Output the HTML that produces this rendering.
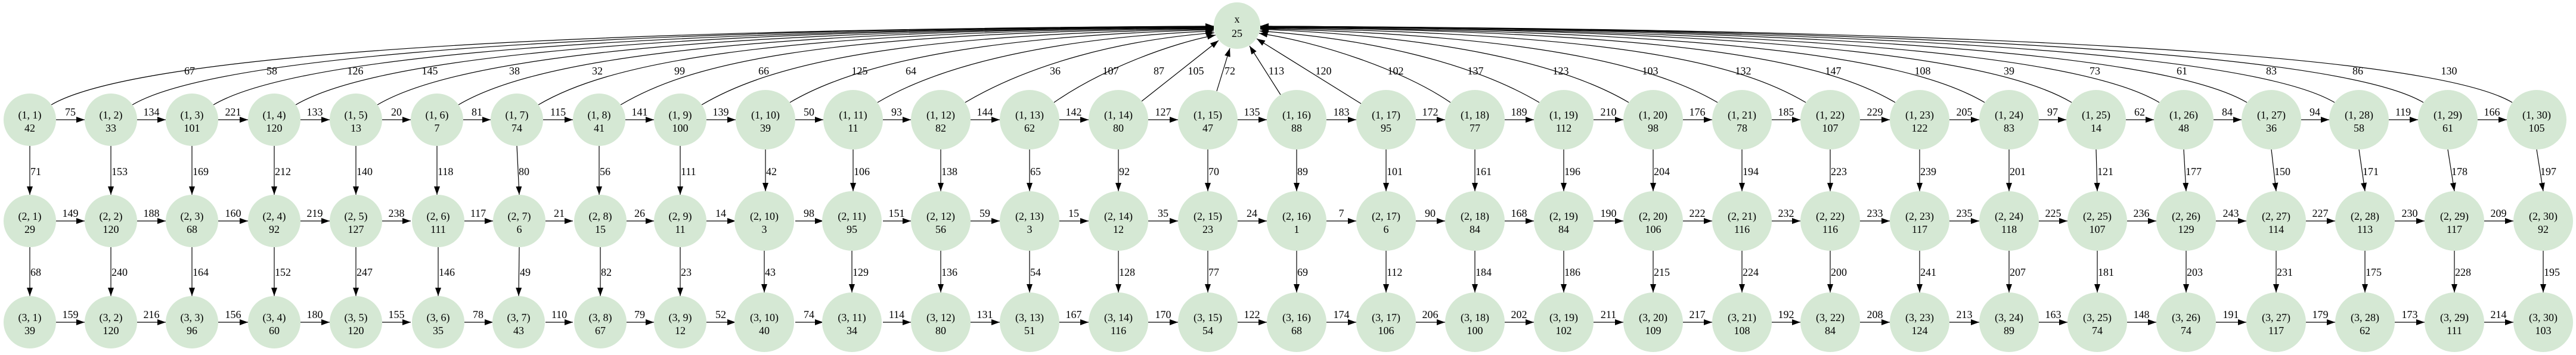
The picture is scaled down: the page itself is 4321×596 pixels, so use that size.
<!DOCTYPE html>
<html><head><meta charset="utf-8"><style>
body{margin:0;background:#fff;}
svg{display:block;}
circle{fill:#d5e8d4;stroke:none;}
text{font-family:"Liberation Serif",serif;font-size:18px;fill:#000;}
.n text{text-anchor:middle;}
.hl{text-anchor:middle;}
.vl{text-anchor:start;}
.e{stroke:#000;stroke-width:1.2;fill:none;marker-end:url(#a);}
</style></head><body>
<svg width="4321" height="596" viewBox="0 0 4321 596" xmlns="http://www.w3.org/2000/svg">
<defs><marker id="a" viewBox="0 0 14 10" refX="14" refY="5" markerWidth="14" markerHeight="10" markerUnits="userSpaceOnUse" orient="auto"><path d="M0,0 L14,5 L0,10 z" fill="#000"/></marker></defs>

<!-- curves to x -->
<path class="e" d="M86,176 C196,111 683,50 2036,44"/>
<path class="e" d="M222,176 C332,111 778,50 2036,44"/>
<path class="e" d="M358,176 C468,111 873,50 2036,45"/>
<path class="e" d="M496,176 C606,111 970,50 2036,45"/>
<path class="e" d="M633,176 C743,111 1066,50 2036,46"/>
<path class="e" d="M769,176 C879,111 1161,51 2036,46"/>
<path class="e" d="M903,176 C1013,111 1255,52 2036,47"/>
<path class="e" d="M1041,176 C1151,111 1351,54 2036,48"/>
<path class="e" d="M1177,176 C1287,111 1492,57 2036,49"/>
<path class="e" d="M1325,172 C1435,107 1644,60 2036,50"/>
<path class="e" d="M1472,172 C1582,107 1773,63 2036,52"/>
<path class="e" d="M1619,172 C1729,107 1880,67 2037,55"/>
<path class="e" d="M1768,172 C1850,115 1967,72 2039,59"/>
<path class="e" d="M1915,170 L2044,68"/>
<path class="e" d="M2041,153 L2063,81"/>
<path class="e" d="M2148,159 L2096,77"/>
<path class="e" d="M2283,174 L2108,65"/>
<path class="e" d="M2433,172 C2353,117 2211,70 2112,56"/>
<path class="e" d="M2582,172 C2472,107 2305,66 2113,52"/>
<path class="e" d="M2732,172 C2622,107 2422,62 2114,49"/>
<path class="e" d="M2881,172 C2771,107 2561,59 2114,48"/>
<path class="e" d="M3029,172 C2919,107 2721,56 2114,47"/>
<path class="e" d="M3179,172 C3069,107 2848,53 2114,46"/>
<path class="e" d="M3329,172 C3219,107 2953,51 2114,46"/>
<path class="e" d="M3475,172 C3365,107 3055,50 2114,45"/>
<path class="e" d="M3622,172 C3512,107 3158,50 2114,45"/>
<path class="e" d="M3769,172 C3659,107 3261,50 2114,44"/>
<path class="e" d="M3916,172 C3806,107 3364,50 2114,44"/>
<path class="e" d="M4065,172 C3955,107 3468,50 2114,44"/>
<path class="e" d="M4214,172 C4104,107 3572,50 2114,44"/>

<g class="hl">
<text x="318" y="125">67</text><text x="456" y="125">58</text><text x="596" y="125">126</text><text x="721" y="125">145</text><text x="863" y="125">38</text><text x="1002" y="125">32</text><text x="1140" y="125">99</text><text x="1281" y="125">66</text><text x="1442" y="125">125</text><text x="1528" y="125">64</text><text x="1770" y="125">36</text><text x="1863" y="125">107</text><text x="1944" y="125">87</text><text x="2006" y="125">105</text><text x="2063" y="125">72</text><text x="2141" y="125">113</text><text x="2220" y="125">120</text><text x="2341" y="125">102</text><text x="2475" y="125">137</text><text x="2618" y="125">123</text><text x="2768" y="125">103</text><text x="2924" y="125">132</text><text x="3075" y="125">147</text><text x="3225" y="125">108</text><text x="3370" y="125">39</text><text x="3514" y="125">73</text><text x="3660" y="125">61</text><text x="3810" y="125">83</text><text x="3955" y="125">86</text><text x="4108" y="125">130</text>
</g>

<!-- row1 horizontal -->
<g>
<line class="e" x1="94" y1="201" x2="142" y2="201"/><line class="e" x1="230" y1="201" x2="278" y2="201"/><line class="e" x1="366" y1="201" x2="416" y2="201"/><line class="e" x1="504" y1="201" x2="553" y2="201"/><line class="e" x1="641" y1="201" x2="689" y2="201"/><line class="e" x1="777" y1="201" x2="823" y2="201"/><line class="e" x1="911" y1="201" x2="961" y2="201"/><line class="e" x1="1049" y1="201" x2="1097" y2="201"/><line class="e" x1="1185" y1="201" x2="1234" y2="201"/><line class="e" x1="1334" y1="201" x2="1381" y2="201"/><line class="e" x1="1481" y1="201" x2="1528" y2="201"/><line class="e" x1="1628" y1="201" x2="1677" y2="201"/><line class="e" x1="1777" y1="201" x2="1826" y2="201"/><line class="e" x1="1926" y1="201" x2="1976" y2="201"/><line class="e" x1="2076" y1="201" x2="2125" y2="201"/><line class="e" x1="2225" y1="201" x2="2275" y2="201"/><line class="e" x1="2375" y1="201" x2="2424" y2="201"/><line class="e" x1="2524" y1="201" x2="2573" y2="201"/><line class="e" x1="2673" y1="201" x2="2723" y2="201"/><line class="e" x1="2823" y1="201" x2="2872" y2="201"/><line class="e" x1="2972" y1="201" x2="3020" y2="201"/><line class="e" x1="3120" y1="201" x2="3170" y2="201"/><line class="e" x1="3270" y1="201" x2="3320" y2="201"/><line class="e" x1="3420" y1="201" x2="3466" y2="201"/><line class="e" x1="3566" y1="201" x2="3613" y2="201"/><line class="e" x1="3713" y1="201" x2="3760" y2="201"/><line class="e" x1="3860" y1="201" x2="3907" y2="201"/><line class="e" x1="4007" y1="201" x2="4056" y2="201"/><line class="e" x1="4156" y1="201" x2="4205" y2="201"/>
</g>
<g class="hl">
<text x="118" y="194">75</text><text x="254" y="194">134</text><text x="391" y="194">221</text><text x="528" y="194">133</text><text x="665" y="194">20</text><text x="800" y="194">81</text><text x="936" y="194">115</text><text x="1073" y="194">141</text><text x="1209" y="194">139</text><text x="1357" y="194">50</text><text x="1504" y="194">93</text><text x="1652" y="194">144</text><text x="1801" y="194">142</text><text x="1951" y="194">127</text><text x="2100" y="194">135</text><text x="2250" y="194">183</text><text x="2399" y="194">172</text><text x="2548" y="194">189</text><text x="2698" y="194">210</text><text x="2847" y="194">176</text><text x="2996" y="194">185</text><text x="3145" y="194">229</text><text x="3295" y="194">205</text><text x="3443" y="194">97</text><text x="3589" y="194">62</text><text x="3736" y="194">84</text><text x="3883" y="194">94</text><text x="4031" y="194">119</text><text x="4180" y="194">166</text>
</g>

<!-- row2 horizontal -->
<g>
<line class="e" x1="94" y1="371" x2="142" y2="371"/><line class="e" x1="230" y1="371" x2="278" y2="371"/><line class="e" x1="366" y1="371" x2="416" y2="371"/><line class="e" x1="504" y1="371" x2="553" y2="371"/><line class="e" x1="641" y1="371" x2="689" y2="371"/><line class="e" x1="777" y1="371" x2="827" y2="371"/><line class="e" x1="915" y1="371" x2="961" y2="371"/><line class="e" x1="1049" y1="371" x2="1097" y2="371"/><line class="e" x1="1185" y1="371" x2="1234" y2="371"/><line class="e" x1="1334" y1="371" x2="1381" y2="371"/><line class="e" x1="1481" y1="371" x2="1528" y2="371"/><line class="e" x1="1628" y1="371" x2="1677" y2="371"/><line class="e" x1="1777" y1="371" x2="1826" y2="371"/><line class="e" x1="1926" y1="371" x2="1976" y2="371"/><line class="e" x1="2076" y1="371" x2="2125" y2="371"/><line class="e" x1="2225" y1="371" x2="2275" y2="371"/><line class="e" x1="2375" y1="371" x2="2424" y2="371"/><line class="e" x1="2524" y1="371" x2="2573" y2="371"/><line class="e" x1="2673" y1="371" x2="2723" y2="371"/><line class="e" x1="2823" y1="371" x2="2872" y2="371"/><line class="e" x1="2972" y1="371" x2="3020" y2="371"/><line class="e" x1="3120" y1="371" x2="3170" y2="371"/><line class="e" x1="3270" y1="371" x2="3320" y2="371"/><line class="e" x1="3420" y1="371" x2="3468" y2="371"/><line class="e" x1="3568" y1="371" x2="3617" y2="371"/><line class="e" x1="3717" y1="371" x2="3768" y2="371"/><line class="e" x1="3868" y1="371" x2="3917" y2="371"/><line class="e" x1="4017" y1="371" x2="4067" y2="371"/><line class="e" x1="4167" y1="371" x2="4216" y2="371"/>
</g>
<g class="hl">
<text x="118" y="364">149</text><text x="254" y="364">188</text><text x="391" y="364">160</text><text x="528" y="364">219</text><text x="665" y="364">238</text><text x="802" y="364">117</text><text x="938" y="364">21</text><text x="1073" y="364">26</text><text x="1209" y="364">14</text><text x="1357" y="364">98</text><text x="1504" y="364">151</text><text x="1652" y="364">59</text><text x="1801" y="364">15</text><text x="1951" y="364">35</text><text x="2100" y="364">24</text><text x="2250" y="364">7</text><text x="2399" y="364">90</text><text x="2548" y="364">168</text><text x="2698" y="364">190</text><text x="2847" y="364">222</text><text x="2996" y="364">232</text><text x="3145" y="364">233</text><text x="3295" y="364">235</text><text x="3444" y="364">225</text><text x="3592" y="364">236</text><text x="3742" y="364">243</text><text x="3892" y="364">227</text><text x="4042" y="364">230</text><text x="4191" y="364">209</text>
</g>

<!-- row3 horizontal -->
<g>
<line class="e" x1="94" y1="541" x2="142" y2="541"/><line class="e" x1="230" y1="541" x2="278" y2="541"/><line class="e" x1="366" y1="541" x2="416" y2="541"/><line class="e" x1="504" y1="541" x2="553" y2="541"/><line class="e" x1="641" y1="541" x2="689" y2="541"/><line class="e" x1="777" y1="541" x2="827" y2="541"/><line class="e" x1="915" y1="541" x2="961" y2="541"/><line class="e" x1="1049" y1="541" x2="1097" y2="541"/><line class="e" x1="1185" y1="541" x2="1234" y2="541"/><line class="e" x1="1334" y1="541" x2="1381" y2="541"/><line class="e" x1="1481" y1="541" x2="1528" y2="541"/><line class="e" x1="1628" y1="541" x2="1677" y2="541"/><line class="e" x1="1777" y1="541" x2="1826" y2="541"/><line class="e" x1="1926" y1="541" x2="1976" y2="541"/><line class="e" x1="2076" y1="541" x2="2125" y2="541"/><line class="e" x1="2225" y1="541" x2="2275" y2="541"/><line class="e" x1="2375" y1="541" x2="2424" y2="541"/><line class="e" x1="2524" y1="541" x2="2573" y2="541"/><line class="e" x1="2673" y1="541" x2="2723" y2="541"/><line class="e" x1="2823" y1="541" x2="2872" y2="541"/><line class="e" x1="2972" y1="541" x2="3020" y2="541"/><line class="e" x1="3120" y1="541" x2="3170" y2="541"/><line class="e" x1="3270" y1="541" x2="3320" y2="541"/><line class="e" x1="3420" y1="541" x2="3468" y2="541"/><line class="e" x1="3568" y1="541" x2="3617" y2="541"/><line class="e" x1="3717" y1="541" x2="3768" y2="541"/><line class="e" x1="3868" y1="541" x2="3917" y2="541"/><line class="e" x1="4017" y1="541" x2="4067" y2="541"/><line class="e" x1="4167" y1="541" x2="4216" y2="541"/>
</g>
<g class="hl">
<text x="118" y="534">159</text><text x="254" y="534">216</text><text x="391" y="534">156</text><text x="528" y="534">180</text><text x="665" y="534">155</text><text x="802" y="534">78</text><text x="938" y="534">110</text><text x="1073" y="534">79</text><text x="1209" y="534">52</text><text x="1357" y="534">74</text><text x="1504" y="534">114</text><text x="1652" y="534">131</text><text x="1801" y="534">167</text><text x="1951" y="534">170</text><text x="2100" y="534">122</text><text x="2250" y="534">174</text><text x="2399" y="534">206</text><text x="2548" y="534">202</text><text x="2698" y="534">211</text><text x="2847" y="534">217</text><text x="2996" y="534">192</text><text x="3145" y="534">208</text><text x="3295" y="534">213</text><text x="3444" y="534">163</text><text x="3592" y="534">148</text><text x="3742" y="534">191</text><text x="3892" y="534">179</text><text x="4042" y="534">173</text><text x="4191" y="534">214</text>
</g>

<!-- vertical row1->row2 -->
<g>
<line class="e" x1="50" y1="245" x2="50" y2="327"/><line class="e" x1="186" y1="245" x2="186" y2="327"/><line class="e" x1="322" y1="245" x2="322" y2="327"/><line class="e" x1="460" y1="245" x2="460" y2="327"/><line class="e" x1="597" y1="245" x2="597" y2="327"/><line class="e" x1="733" y1="245" x2="733" y2="327"/><line class="e" x1="867" y1="245" x2="871" y2="327"/><line class="e" x1="1005" y1="245" x2="1005" y2="327"/><line class="e" x1="1141" y1="245" x2="1141" y2="327"/><line class="e" x1="1284" y1="251" x2="1284" y2="321"/><line class="e" x1="1431" y1="251" x2="1431" y2="321"/><line class="e" x1="1578" y1="251" x2="1578" y2="321"/><line class="e" x1="1727" y1="251" x2="1727" y2="321"/><line class="e" x1="1876" y1="251" x2="1876" y2="321"/><line class="e" x1="2026" y1="251" x2="2026" y2="321"/><line class="e" x1="2175" y1="251" x2="2175" y2="321"/><line class="e" x1="2325" y1="251" x2="2325" y2="321"/><line class="e" x1="2474" y1="251" x2="2474" y2="321"/><line class="e" x1="2623" y1="251" x2="2623" y2="321"/><line class="e" x1="2773" y1="251" x2="2773" y2="321"/><line class="e" x1="2922" y1="251" x2="2922" y2="321"/><line class="e" x1="3070" y1="251" x2="3070" y2="321"/><line class="e" x1="3220" y1="251" x2="3220" y2="321"/><line class="e" x1="3370" y1="251" x2="3370" y2="321"/><line class="e" x1="3516" y1="251" x2="3518" y2="321"/><line class="e" x1="3663" y1="251" x2="3667" y2="321"/><line class="e" x1="3810" y1="251" x2="3818" y2="321"/><line class="e" x1="3957" y1="251" x2="3967" y2="321"/><line class="e" x1="4106" y1="251" x2="4117" y2="321"/><line class="e" x1="4255" y1="251" x2="4266" y2="321"/>
</g>
<g class="vl">
<text x="51" y="294">71</text><text x="187" y="294">153</text><text x="323" y="294">169</text><text x="461" y="294">212</text><text x="598" y="294">140</text><text x="734" y="294">118</text><text x="870" y="294">80</text><text x="1006" y="294">56</text><text x="1142" y="294">111</text><text x="1285" y="294">42</text><text x="1432" y="294">106</text><text x="1579" y="294">138</text><text x="1728" y="294">65</text><text x="1877" y="294">92</text><text x="2027" y="294">70</text><text x="2176" y="294">89</text><text x="2326" y="294">101</text><text x="2475" y="294">161</text><text x="2624" y="294">196</text><text x="2774" y="294">204</text><text x="2923" y="294">194</text><text x="3071" y="294">223</text><text x="3221" y="294">239</text><text x="3371" y="294">201</text><text x="3518" y="294">121</text><text x="3666" y="294">177</text><text x="3815" y="294">150</text><text x="3963" y="294">171</text><text x="4112" y="294">178</text><text x="4261" y="294">197</text>
</g>

<!-- vertical row2->row3 -->
<g>
<line class="e" x1="50" y1="415" x2="50" y2="497"/><line class="e" x1="186" y1="415" x2="186" y2="497"/><line class="e" x1="322" y1="415" x2="322" y2="497"/><line class="e" x1="460" y1="415" x2="460" y2="497"/><line class="e" x1="597" y1="415" x2="597" y2="497"/><line class="e" x1="735" y1="415" x2="735" y2="497"/><line class="e" x1="871" y1="415" x2="870" y2="497"/><line class="e" x1="1007" y1="415" x2="1007" y2="497"/><line class="e" x1="1141" y1="415" x2="1141" y2="497"/><line class="e" x1="1282" y1="421" x2="1282" y2="491"/><line class="e" x1="1429" y1="421" x2="1429" y2="491"/><line class="e" x1="1578" y1="421" x2="1578" y2="491"/><line class="e" x1="1727" y1="421" x2="1727" y2="491"/><line class="e" x1="1876" y1="421" x2="1876" y2="491"/><line class="e" x1="2026" y1="421" x2="2026" y2="491"/><line class="e" x1="2175" y1="421" x2="2175" y2="491"/><line class="e" x1="2325" y1="421" x2="2325" y2="491"/><line class="e" x1="2474" y1="421" x2="2474" y2="491"/><line class="e" x1="2623" y1="421" x2="2623" y2="491"/><line class="e" x1="2773" y1="421" x2="2773" y2="491"/><line class="e" x1="2922" y1="421" x2="2922" y2="491"/><line class="e" x1="3070" y1="421" x2="3070" y2="491"/><line class="e" x1="3220" y1="421" x2="3220" y2="491"/><line class="e" x1="3370" y1="421" x2="3370" y2="491"/><line class="e" x1="3518" y1="421" x2="3518" y2="491"/><line class="e" x1="3667" y1="421" x2="3667" y2="491"/><line class="e" x1="3818" y1="421" x2="3818" y2="491"/><line class="e" x1="3967" y1="421" x2="3967" y2="491"/><line class="e" x1="4117" y1="421" x2="4117" y2="491"/><line class="e" x1="4266" y1="421" x2="4266" y2="491"/>
</g>
<g class="vl">
<text x="51" y="463">68</text><text x="187" y="463">240</text><text x="323" y="463">164</text><text x="461" y="463">152</text><text x="598" y="463">247</text><text x="736" y="463">146</text><text x="872" y="463">49</text><text x="1008" y="463">82</text><text x="1142" y="463">23</text><text x="1283" y="463">43</text><text x="1430" y="463">129</text><text x="1579" y="463">136</text><text x="1728" y="463">54</text><text x="1877" y="463">128</text><text x="2027" y="463">77</text><text x="2176" y="463">69</text><text x="2326" y="463">112</text><text x="2475" y="463">184</text><text x="2624" y="463">186</text><text x="2774" y="463">215</text><text x="2923" y="463">224</text><text x="3071" y="463">200</text><text x="3221" y="463">241</text><text x="3371" y="463">207</text><text x="3519" y="463">181</text><text x="3668" y="463">203</text><text x="3819" y="463">231</text><text x="3968" y="463">175</text><text x="4118" y="463">228</text><text x="4267" y="463">195</text>
</g>

<!-- nodes -->
<g class="n">
<g transform="translate(2075,43)"><circle r="39"/><text y="-5">x</text><text y="19">25</text></g>

<g transform="translate(50,201)"><circle r="44"/><text y="-2">(1, 1)</text><text y="20">42</text></g>
<g transform="translate(186,201)"><circle r="44"/><text y="-2">(1, 2)</text><text y="20">33</text></g>
<g transform="translate(322,201)"><circle r="44"/><text y="-2">(1, 3)</text><text y="20">101</text></g>
<g transform="translate(460,201)"><circle r="44"/><text y="-2">(1, 4)</text><text y="20">120</text></g>
<g transform="translate(597,201)"><circle r="44"/><text y="-2">(1, 5)</text><text y="20">13</text></g>
<g transform="translate(733,201)"><circle r="44"/><text y="-2">(1, 6)</text><text y="20">7</text></g>
<g transform="translate(867,201)"><circle r="44"/><text y="-2">(1, 7)</text><text y="20">74</text></g>
<g transform="translate(1005,201)"><circle r="44"/><text y="-2">(1, 8)</text><text y="20">41</text></g>
<g transform="translate(1141,201)"><circle r="44"/><text y="-2">(1, 9)</text><text y="20">100</text></g>
<g transform="translate(1284,201)"><circle r="50"/><text y="-2">(1, 10)</text><text y="20">39</text></g>
<g transform="translate(1431,201)"><circle r="50"/><text y="-2">(1, 11)</text><text y="20">11</text></g>
<g transform="translate(1578,201)"><circle r="50"/><text y="-2">(1, 12)</text><text y="20">82</text></g>
<g transform="translate(1727,201)"><circle r="50"/><text y="-2">(1, 13)</text><text y="20">62</text></g>
<g transform="translate(1876,201)"><circle r="50"/><text y="-2">(1, 14)</text><text y="20">80</text></g>
<g transform="translate(2026,201)"><circle r="50"/><text y="-2">(1, 15)</text><text y="20">47</text></g>
<g transform="translate(2175,201)"><circle r="50"/><text y="-2">(1, 16)</text><text y="20">88</text></g>
<g transform="translate(2325,201)"><circle r="50"/><text y="-2">(1, 17)</text><text y="20">95</text></g>
<g transform="translate(2474,201)"><circle r="50"/><text y="-2">(1, 18)</text><text y="20">77</text></g>
<g transform="translate(2623,201)"><circle r="50"/><text y="-2">(1, 19)</text><text y="20">112</text></g>
<g transform="translate(2773,201)"><circle r="50"/><text y="-2">(1, 20)</text><text y="20">98</text></g>
<g transform="translate(2922,201)"><circle r="50"/><text y="-2">(1, 21)</text><text y="20">78</text></g>
<g transform="translate(3070,201)"><circle r="50"/><text y="-2">(1, 22)</text><text y="20">107</text></g>
<g transform="translate(3220,201)"><circle r="50"/><text y="-2">(1, 23)</text><text y="20">122</text></g>
<g transform="translate(3370,201)"><circle r="50"/><text y="-2">(1, 24)</text><text y="20">83</text></g>
<g transform="translate(3516,201)"><circle r="50"/><text y="-2">(1, 25)</text><text y="20">14</text></g>
<g transform="translate(3663,201)"><circle r="50"/><text y="-2">(1, 26)</text><text y="20">48</text></g>
<g transform="translate(3810,201)"><circle r="50"/><text y="-2">(1, 27)</text><text y="20">36</text></g>
<g transform="translate(3957,201)"><circle r="50"/><text y="-2">(1, 28)</text><text y="20">58</text></g>
<g transform="translate(4106,201)"><circle r="50"/><text y="-2">(1, 29)</text><text y="20">61</text></g>
<g transform="translate(4255,201)"><circle r="50"/><text y="-2">(1, 30)</text><text y="20">105</text></g>

<g transform="translate(50,371)"><circle r="44"/><text y="-2">(2, 1)</text><text y="20">29</text></g>
<g transform="translate(186,371)"><circle r="44"/><text y="-2">(2, 2)</text><text y="20">120</text></g>
<g transform="translate(322,371)"><circle r="44"/><text y="-2">(2, 3)</text><text y="20">68</text></g>
<g transform="translate(460,371)"><circle r="44"/><text y="-2">(2, 4)</text><text y="20">92</text></g>
<g transform="translate(597,371)"><circle r="44"/><text y="-2">(2, 5)</text><text y="20">127</text></g>
<g transform="translate(735,371)"><circle r="44"/><text y="-2">(2, 6)</text><text y="20">111</text></g>
<g transform="translate(871,371)"><circle r="44"/><text y="-2">(2, 7)</text><text y="20">6</text></g>
<g transform="translate(1007,371)"><circle r="44"/><text y="-2">(2, 8)</text><text y="20">15</text></g>
<g transform="translate(1141,371)"><circle r="44"/><text y="-2">(2, 9)</text><text y="20">11</text></g>
<g transform="translate(1282,371)"><circle r="50"/><text y="-2">(2, 10)</text><text y="20">3</text></g>
<g transform="translate(1429,371)"><circle r="50"/><text y="-2">(2, 11)</text><text y="20">95</text></g>
<g transform="translate(1578,371)"><circle r="50"/><text y="-2">(2, 12)</text><text y="20">56</text></g>
<g transform="translate(1727,371)"><circle r="50"/><text y="-2">(2, 13)</text><text y="20">3</text></g>
<g transform="translate(1876,371)"><circle r="50"/><text y="-2">(2, 14)</text><text y="20">12</text></g>
<g transform="translate(2026,371)"><circle r="50"/><text y="-2">(2, 15)</text><text y="20">23</text></g>
<g transform="translate(2175,371)"><circle r="50"/><text y="-2">(2, 16)</text><text y="20">1</text></g>
<g transform="translate(2325,371)"><circle r="50"/><text y="-2">(2, 17)</text><text y="20">6</text></g>
<g transform="translate(2474,371)"><circle r="50"/><text y="-2">(2, 18)</text><text y="20">84</text></g>
<g transform="translate(2623,371)"><circle r="50"/><text y="-2">(2, 19)</text><text y="20">84</text></g>
<g transform="translate(2773,371)"><circle r="50"/><text y="-2">(2, 20)</text><text y="20">106</text></g>
<g transform="translate(2922,371)"><circle r="50"/><text y="-2">(2, 21)</text><text y="20">116</text></g>
<g transform="translate(3070,371)"><circle r="50"/><text y="-2">(2, 22)</text><text y="20">116</text></g>
<g transform="translate(3220,371)"><circle r="50"/><text y="-2">(2, 23)</text><text y="20">117</text></g>
<g transform="translate(3370,371)"><circle r="50"/><text y="-2">(2, 24)</text><text y="20">118</text></g>
<g transform="translate(3518,371)"><circle r="50"/><text y="-2">(2, 25)</text><text y="20">107</text></g>
<g transform="translate(3667,371)"><circle r="50"/><text y="-2">(2, 26)</text><text y="20">129</text></g>
<g transform="translate(3818,371)"><circle r="50"/><text y="-2">(2, 27)</text><text y="20">114</text></g>
<g transform="translate(3967,371)"><circle r="50"/><text y="-2">(2, 28)</text><text y="20">113</text></g>
<g transform="translate(4117,371)"><circle r="50"/><text y="-2">(2, 29)</text><text y="20">117</text></g>
<g transform="translate(4266,371)"><circle r="50"/><text y="-2">(2, 30)</text><text y="20">92</text></g>

<g transform="translate(50,541)"><circle r="44"/><text y="-2">(3, 1)</text><text y="20">39</text></g>
<g transform="translate(186,541)"><circle r="44"/><text y="-2">(3, 2)</text><text y="20">120</text></g>
<g transform="translate(322,541)"><circle r="44"/><text y="-2">(3, 3)</text><text y="20">96</text></g>
<g transform="translate(460,541)"><circle r="44"/><text y="-2">(3, 4)</text><text y="20">60</text></g>
<g transform="translate(597,541)"><circle r="44"/><text y="-2">(3, 5)</text><text y="20">120</text></g>
<g transform="translate(735,541)"><circle r="44"/><text y="-2">(3, 6)</text><text y="20">35</text></g>
<g transform="translate(870,541)"><circle r="44"/><text y="-2">(3, 7)</text><text y="20">43</text></g>
<g transform="translate(1007,541)"><circle r="44"/><text y="-2">(3, 8)</text><text y="20">67</text></g>
<g transform="translate(1141,541)"><circle r="44"/><text y="-2">(3, 9)</text><text y="20">12</text></g>
<g transform="translate(1282,541)"><circle r="50"/><text y="-2">(3, 10)</text><text y="20">40</text></g>
<g transform="translate(1429,541)"><circle r="50"/><text y="-2">(3, 11)</text><text y="20">34</text></g>
<g transform="translate(1578,541)"><circle r="50"/><text y="-2">(3, 12)</text><text y="20">80</text></g>
<g transform="translate(1727,541)"><circle r="50"/><text y="-2">(3, 13)</text><text y="20">51</text></g>
<g transform="translate(1876,541)"><circle r="50"/><text y="-2">(3, 14)</text><text y="20">116</text></g>
<g transform="translate(2026,541)"><circle r="50"/><text y="-2">(3, 15)</text><text y="20">54</text></g>
<g transform="translate(2175,541)"><circle r="50"/><text y="-2">(3, 16)</text><text y="20">68</text></g>
<g transform="translate(2325,541)"><circle r="50"/><text y="-2">(3, 17)</text><text y="20">106</text></g>
<g transform="translate(2474,541)"><circle r="50"/><text y="-2">(3, 18)</text><text y="20">100</text></g>
<g transform="translate(2623,541)"><circle r="50"/><text y="-2">(3, 19)</text><text y="20">102</text></g>
<g transform="translate(2773,541)"><circle r="50"/><text y="-2">(3, 20)</text><text y="20">109</text></g>
<g transform="translate(2922,541)"><circle r="50"/><text y="-2">(3, 21)</text><text y="20">108</text></g>
<g transform="translate(3070,541)"><circle r="50"/><text y="-2">(3, 22)</text><text y="20">84</text></g>
<g transform="translate(3220,541)"><circle r="50"/><text y="-2">(3, 23)</text><text y="20">124</text></g>
<g transform="translate(3370,541)"><circle r="50"/><text y="-2">(3, 24)</text><text y="20">89</text></g>
<g transform="translate(3518,541)"><circle r="50"/><text y="-2">(3, 25)</text><text y="20">74</text></g>
<g transform="translate(3667,541)"><circle r="50"/><text y="-2">(3, 26)</text><text y="20">74</text></g>
<g transform="translate(3818,541)"><circle r="50"/><text y="-2">(3, 27)</text><text y="20">117</text></g>
<g transform="translate(3967,541)"><circle r="50"/><text y="-2">(3, 28)</text><text y="20">62</text></g>
<g transform="translate(4117,541)"><circle r="50"/><text y="-2">(3, 29)</text><text y="20">111</text></g>
<g transform="translate(4266,541)"><circle r="50"/><text y="-2">(3, 30)</text><text y="20">103</text></g>
</g>
</svg>
</body></html>
